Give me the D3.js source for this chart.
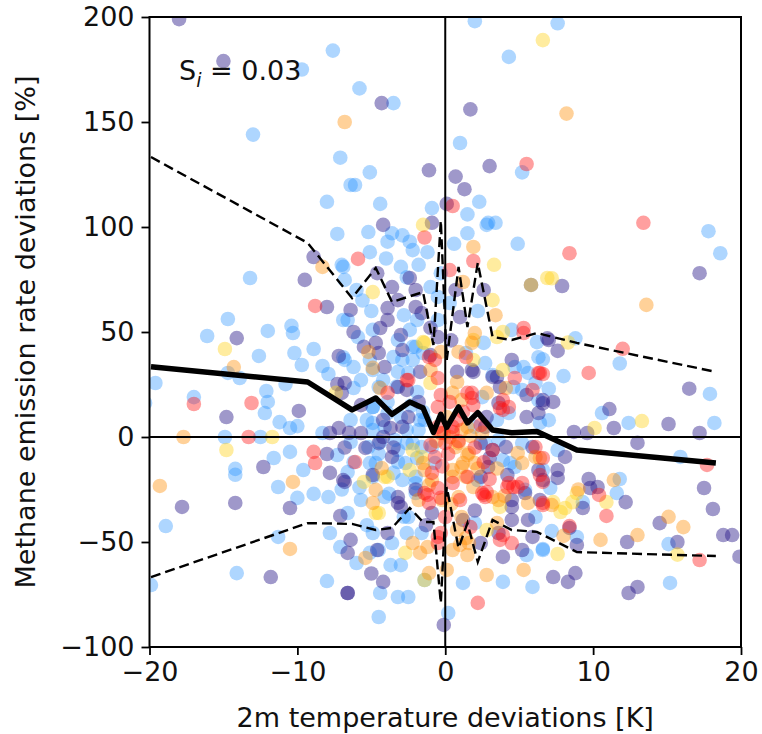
<!DOCTYPE html>
<html>
<head>
<meta charset="utf-8">
<script src="https://cdn.jsdelivr.net/npm/d3@7"></script>
<style>
  body { margin: 0; background: #fff; }
  svg { font-family: "DejaVu Sans", sans-serif; }
</style>
</head>
<body>
<svg id="chart" width="762" height="734"></svg>
<script>
// scatter points per colour group, [temperature deviation K, emission deviation %]
var bluePts = [[-7.6,184],[-9.7,175],[-13.0,144],[-7.1,133],[-8.0,112],[-6.4,120],[2.0,198],[4.3,181],[-5.8,166],[-3.5,159],[1.0,140],[-5.1,126],[-6.1,120],[5.2,126],[-4.4,111],[2.3,112],[-0.9,109],[1.5,106],[3.4,102],[2.8,101],[7.6,197],[17.8,98],[18.6,87.5],[8.8,47],[11.8,35],[6.6,37],[8.0,29],[7.0,23],[17.9,20.5],[10.6,11.4],[12.4,6.7],[18.2,6.7],[7.0,8],
  [15.9,-9.5],[15.1,-51],[15.2,-69.5],[6.6,-53.3],[8.9,-47.6],[7.2,-44.8],[11.6,-26.7],[11.8,-20],[9.3,-31],[7.1,-24.3],[7.6,-6.2],[6.6,-15.7],
  [-14.9,0],[-12.5,0],[-14.2,-15.2],[-14.2,-18],[-11.6,-10],[-10.5,-7.1],[-18.9,-42.4],[-11.3,-23.8],[-10.0,-29],[-8.9,-27.1],[-7.9,-28.6],[-9.6,-15.7],[-7.3,-8.6],[-11.3,-47.6],[-14.1,-64.8],[-7.8,-45.7],[-7.1,-52.4],[-8.0,-68.6],[-19.9,-70.5],
  [-7.3,96.7],[-7.0,82],[-13.2,75.7],[-6.9,55.7],[-14.7,56.2],[-16.1,48.1],[-12.0,50.5],[-10.4,52.9],[-10.3,49.5],[-12.6,38.6],[-10.2,40],[-8.9,41.9],[-9.7,34.3],[-8.3,33.8],[-6.8,36.7],[-7.9,30],[-14.7,30.5],[-13.9,28.1],[-10.8,25.2],[-19.6,25.7],[-20.3,16.2],[-17.0,19],[-12.1,21.9],[-12.0,16.7],[-12.2,11.4],[-11.2,7.1],[-10.5,4.3],[-10.0,5.2],[-8.3,1.9],
  [-5.2,97.6],[-3.6,97],[-2.9,96],[-2.4,93],[-3.9,93],[-2.2,89],[1.5,97],[2.9,102],[4.9,92],[-5.1,88],[-6.9,81],[-6.8,74.8],[-3.0,81],[-2.6,76],[-6.6,55.7],[-1.9,55.7],[-1.0,71.4],[-0.5,66.7],[0.3,63.8],[-0.5,55.7],[-5.9,47.6],[-4.9,51],[-2.4,51],[2.6,44.8],[4.5,51],[6.2,45.2],[-6.9,38],[-6.2,33.3],[-5.1,36.7],[-3.5,38.1],[-2.2,42.9],[-2.2,36.7],[-1.5,40],[2.7,35.2],[3.2,29.5],[5.3,33.3],[6.1,25.7],[4.6,23.8],[-2.5,30.5],[-3.2,31],[-4.2,27.1],[-5.7,27.1],[-6.2,23.3],[-1.9,21.4],[-4.9,14.3],[-3.9,16.7],[-1.5,11.9],[-3.0,9.5],[-5.3,8.1],[-6.4,8.1],[3.5,8.1],[4.3,11.4],[6.4,6.7],[-2.6,3.3],[-4.9,3.3],[-1.7,8.1],
  [-6.4,-2.4],[-4.4,-2.4],[-3.2,-6.2],[-2.6,-2.9],[-1.6,-4.8],[3.6,-1.4],[4.4,-12.4],[-6.6,-16.7],[-5.1,-12.4],[-3.5,-17.1],[-3.2,-11.9],[4.7,-14.3],[5.5,-56.2],[6.6,-53.8],[5.9,-71.4],[3.9,-69],[1.2,-69.5],[0.2,-83.8],[-5.7,-30],[-6.6,-36.2],[-2.6,-45.7],[-5.1,-55.2],[-3.7,-61],[-3.0,-61],[-4.4,-74.3],[-3.2,-76.2],[-2.5,-76.2],[-4.5,-85.7],[-1.4,-68.1],
  [-2.0,-22],[-3.8,-27],[-2.8,-38],[-1.9,-10],[-4.5,-8],[-5.8,-24],[-2.3,15],[-3.3,24],
  [-3.2,46.2],[-2.0,42.9],[1.4,40],[6.3,38],[4.7,33.3],[5.6,30.5],[-4.9,31.9],[-2.9,36.7],[2.5,19],[6.3,17.6],[5.2,22.4],[-4.5,23.8],[-3.9,11.4],[-4.9,14.3],[-1.4,8.1],[-4.9,6.7],[-4.1,4.8],[-1.8,3.3],[2.0,4.8],
  [-5.2,-4.8],[-3.4,-1.4],[-2.2,-2.9],[-0.9,-4.8],[2.7,-2.9],[5.2,-2.9],[-4.7,-12.4],[-2.7,-12.4],[-0.7,-12.4],[3.9,-11],[-4.9,-19],[-2.9,-20.5],[-2.0,-19],[2.2,-20.5],[5.4,-25.2],[-4.1,-28.6],[-2.0,-26.7],[-2.5,-38.1],[2.0,-41],[6.1,-38.1],[-4.9,-45.7],[-3.6,-50.5],[-1.6,-45.7],[-4.5,-53.8],
  [-4.0,85],[-1.8,82],[-6.0,70],[-5.0,60],[-2.8,58],[-1.2,88],[0.6,92],[-0.3,78],[2.2,60],[-5.6,65],[-6.0,-60],[-5.3,-42],[-7.0,-25],[-6.2,-12]];

var purplePts = [[-18.0,199],[-15.0,179],[-4.3,159],[1.7,156],[-1.1,127],[3.0,129],[0.7,124],[1.3,118],[0.1,111],[-0.9,102],[-4.2,101],
  [7.9,71.9],[17.2,78],[7.0,46.2],[7.6,41],[7.3,16.7],[6.6,16],[16.5,23],[11.1,13.3],[15.1,6.2],[11.4,4.3],[8.7,2.4],[17.2,1.9],[9.6,1.9],
  [13,-2.8],[17.5,-24.3],[18.1,-34.3],[18.8,-46.7],[19.4,-46.7],[19.9,-57],[14.5,-41],[15.7,-50],[12.3,-50],[13.0,-71.4],[12.4,-74.3],[7.3,-66.7],[8.3,-69],[8.8,-64.8],[8.9,-51.4],[12.2,-31],[10.3,-23.8],[9.7,-20],[9.8,-24.3],[9.3,-33.8],[7.6,-19.5],[7.6,-15.7],[8.1,-9.5],[8.4,-43.3],
  [-12.3,-14.3],[-17.8,-33.3],[-14.2,-31.4],[-10.5,-33.8],[-8.0,-8.1],[-7.8,-17.1],[-6.8,-21.4],[-11.8,-66.7],[-7.1,-37.6],[-6.6,-55.2],[-6.6,-74.3],
  [-8.9,85.7],[-9.5,74.8],[-8.0,61.9],[-14.1,47.1],[-7.2,38.6],[-7.3,25.2],[-9.9,12.4],[-14.8,9.5],[-7.8,1.9],[-7.2,4.3],[-6.5,2],
  [5.8,72.4],[-2.4,75.7],[-3.6,71.4],[-6.4,60.5],[-3.9,61.4],[-3.2,65.2],[-3.9,55.7],[-4.4,51.9],[-2.0,61.9],[-1.6,59],[0.7,70],[2.6,70],[1.0,57.1],[6.9,47],[-3.0,48.6],[-0.5,47.6],[-5.5,42.9],[-4.5,40],[-2.9,41.4],[1.9,31],[4.5,36.7],[6.6,17.6],[5.5,20],[3.5,28.6],[0.8,31],[1.8,31.9],[-1.7,31],[-6.8,25.7],[-2.6,22.4],[-5.7,15.2],[-1.8,16.7],[-4.2,8.1],[-7.0,21],[2.8,9.5],[5.5,9.5],[-3.7,4.3],[-5.7,1.9],
  [-5.4,-5.2],[-4.2,0],[2.4,-2.9],[3.2,-6.2],[5.9,-4.8],[-6.9,-20.5],[-4.9,-18.1],[2.4,-19],[5.4,-26.7],[4.2,-18.1],[6.4,-30],[4.5,-33.3],[5.6,-39.5],[3.9,-57.1],[1.2,-39.5],[2.4,-50.5],[-0.1,-89.5],[-0.9,-36.2],[-3.0,-33.3],[-3.9,-45.7],[-4.6,-53.8],[-6.4,-49],[-4.2,-69],[-6.6,-74.3],
  [-2.0,-25],[-3.5,-5],[-1.3,-42],[3.0,-10],[2.0,-35],
  [-4.7,44.8],[-4.1,33.3],[-1.0,39],[3.2,28.6],[3.7,23.8],[3.6,16.2],[6.3,11.4],[-3.2,23.8],[-2.5,9.5],[-2.9,4.8],[2.7,4.8],
  [-4.5,-2.9],[4.1,-4.8],[-3.6,-9.5],[2.9,-14.3],[6.3,-15.7],[6.6,-20.5],[-3.2,-28.6],[4.5,-30],[-3.2,-31.4],[4.5,-39.5],[3.6,-45.7],[5.9,-47.6],[5.2,-53.8],
  [-4.6,78],[-2.0,70],[-1.0,52],[0.4,46],[-6.2,50],[-5.0,-65],[-6.8,-5]];

var yellowPts = [[6.6,189],[-1.5,101],[7.2,75.6],[8.3,45],[13.3,7.6],[10.1,4.3],[15.7,-56],[7.6,-55.7],[8.9,-26.7],[8.6,-31],[10.9,-31],[7.8,-35.7],[8.1,-33.8],[7.3,-31],[-11.7,0],[-14.8,-6.2],[-14.9,41.9],[-7.4,21],[3.3,82],[6.9,75.7],[5.8,72.4],[-4.9,69],[3.2,65.2],[3.9,50],[-1.5,45.2],[1.9,46.2],[1.9,36.7],[-1.0,25.7],[-2.2,-6.2],[-5.5,-21.4],[-4.1,-19],[-2.4,-15.7],[3.7,-33.3],[2.8,-44.3],[-4.5,-36.2],[-1.4,-68.1],
  [-1.4,44.8],[3.5,47.6],[3.9,31.9],[-1.6,-9.5],[-3.9,-19],[-4.7,-36.2],[-2.7,-55.2]];

var orangePts = [[-6.8,150],[8.2,154],[13.6,62.9],[15.1,-38],[16.1,-42.9],[13.0,-46.7],[10.5,-49],[8.0,-47.1],[11.4,-20.5],[9.0,-25],[7.2,-32.4],[-17.7,0],[-19.3,-23.3],[-10.3,-21.4],[-10.5,-53.3],[-8.3,81],[-14.3,33.3],[1.9,90.5],[1.2,73.8],[3.4,58],[2.0,49.5],[-5.2,40.5],[-0.3,40.5],[0.9,40.5],[4.1,23.3],[2.8,21],[0.8,26.2],[0.5,21],[-1.0,31.9],[-4.4,23.3],[0.1,9.5],[1.5,4.8],[-0.1,1.9],[0.3,0],[0.7,-4.8],[1.5,-8.6],[4.9,-7.6],[6.4,-10],[-4.3,-14.8],[-1.5,-12.4],[-1.1,-22.9],[0.5,-15.7],[1.2,-12.4],[1.9,-23.8],[3.2,-28.6],[3.5,-41],[5.3,-63.3],[2.8,-65.7],[1.5,-56.2],[1.0,-51.4],[0.8,-44.3],[1.4,-48.1],[0.5,-53.8],[0.1,-63.3],[-1.2,-52.4],[-1.7,-55.2],[-1.1,-64.8],[-4.9,-31.4],[-5.4,-57.6],[-4.9,32.9],
  [0.4,-32],[2.2,-15],[-0.6,-2],[1.7,0.5],[3.5,-15],[2.5,2],[-1.8,-30],[4.0,-28],
  [1.8,44.8],[1.1,17.6],[1.1,3.3],[0.9,-2.9],[1.6,-7.6],[6.1,-9.5],[-1.4,-15.7],[1.1,-14.3],[2.0,-12.4],[5.2,-12.4],[-0.9,-20.5],[0.5,-19],[1.4,-19],[-4.7,-25.2],[-0.2,-30],[0.9,-28.6],[3.6,-30],[5.6,-31.4],[1.1,-38.1],[-2.2,-50.5],[1.6,-50.5]];

var redPts = [[0.5,110],[5.5,130],[13.4,102],[8.4,87.5],[12.0,42],[9.7,30.5],[6.6,30],[17.7,-13.3],[17.2,-58.6],[8.4,-42.4],[10.9,-37.6],[10.4,-27.6],[6.6,-31.4],[6.6,-21.4],[6.6,-10],[-13.3,0],[-8.9,-7.1],[-8.8,-12.4],[-8.8,62.4],[-17.0,15.7],[-13.1,16.2],[-1.4,95],[1.9,83.8],[-5.9,84.8],[0.3,79.5],[5.3,51.9],[-1.1,38.1],[-0.7,36.7],[1.4,38.1],[4.7,28.1],[6.3,30.5],[3.7,13.8],[3.9,17.6],[1.8,21],[1.9,15.2],[0.3,16.7],[-0.3,20],[-0.5,28.1],[-2.6,27.1],[-3.9,21],[-0.5,14.3],[-0.5,4.8],[0.8,8.1],[2.4,5.7],[0.5,2.4],[-0.3,1.9],[-1.0,-3.8],[-0.7,-9.5],[-6.1,-11.9],[-0.9,-17.1],[-1.2,-27.6],[-0.5,-24.3],[-0.3,-29],[0.5,-21.9],[1.5,-19],[2.6,-27.6],[2.8,-26.2],[4.2,-23.8],[4.6,-23.8],[5.2,-21.9],[6.4,-18.1],[6.6,-32.4],[3.9,-46.7],[3.7,-49],[2.2,-79],[1.7,-42.9],[-0.5,-50.5],[-0.3,-45.7],
  [0.2,-8],[1.0,-30],[2.0,-5],[-0.2,-14],[0.9,-2],[1.2,12],[2.6,-12],[3.0,-20],
  [5.3,49.5],[6.4,30.5],[-2.5,27.1],[1.5,21],[1.8,18.6],[3.9,12.9],[4.3,14.3],[5.9,22.4],[0.5,4.8],
  [0,-2.9],[3.2,-6.2],[6.1,-4.8],[4.3,-21.9],[4.9,-23.8],[-1.4,-26.7],[-1.1,-31.4],[2.5,-26.7],[2.7,-28.6],[0,-38.1],[-0.5,-47.6],[4.5,-50.5]];

// binned statistics lines
var binX     = [-19.9, -9.3, -6.3, -4.7, -3.6, -2.4, -1.5, -0.8, -0.3, 0.1, 0.9, 1.5, 2.2, 3.2, 4.5, 6.2, 8.9, 18.3];
var medianY  = [33.5, 26.2, 12.9, 18.6, 10.8, 16.7, 13.8, 2.2, 10.8, 4.6, 14.3, 6.7, 11.6, 3.3, 2.0, 2.6, -6.2, -12.4];
var upperY   = [133.3, 92.4, 66.2, 80.5, 64.3, 67, 69, 43.8, 103, 36.7, 81, 52.4, 82.9, 47.6, 46.2, 49.5, 44.8, 31];
var lowerY   = [-66.7, -41, -41.4, -44.3, -43.3, -33.8, -40.5, -40.5, -79, -23.8, -52.9, -41, -59.5, -39.5, -44.3, -45.2, -54.8, -56.7];

var xTicks = [-20, -10, 0, 10, 20];
var yTicks = [-100, -50, 0, 50, 100, 150, 200];

(function() {
  var svg = d3.select('#chart');
  var pl = 149.5, pr = 741, pt = 17, pb = 647;

  var x = d3.scaleLinear().domain([-20, 20]).range([pl, pr]);
  var y = d3.scaleLinear().domain([-100, 200]).range([pb, pt]);

  var fmt = function(d) { return String(d).replace('-', '\u2212'); };

  svg.append('defs').append('clipPath').attr('id', 'plotclip')
    .append('rect').attr('x', pl).attr('y', pt).attr('width', pr - pl).attr('height', pb - pt);

  var plot = svg.append('g').attr('clip-path', 'url(#plotclip)');

  // scatter groups
  var groups = [
    { pts: bluePts, color: '#1e8cff', op: 0.36 },
    { pts: purplePts, color: '#2a1a8a', op: 0.45 },
    { pts: yellowPts, color: '#ffd21a', op: 0.42 },
    { pts: orangePts, color: '#ff8c00', op: 0.4 },
    { pts: redPts, color: '#ff1010', op: 0.4 }
  ];
  groups.forEach(function(g) {
    plot.append('g').selectAll('circle').data(g.pts).enter().append('circle')
      .attr('cx', function(d) { return x(d[0]); })
      .attr('cy', function(d) { return y(d[1]); })
      .attr('r', 7.3)
      .attr('fill', g.color)
      .attr('fill-opacity', g.op);
  });

  // zero lines
  plot.append('line').attr('x1', pl).attr('x2', pr).attr('y1', y(0)).attr('y2', y(0))
    .attr('stroke', '#000').attr('stroke-width', 2);
  plot.append('line').attr('x1', x(0)).attr('x2', x(0)).attr('y1', pt).attr('y2', pb)
    .attr('stroke', '#000').attr('stroke-width', 2);

  // statistics lines
  var line = d3.line().x(function(d) { return x(d[0]); }).y(function(d) { return y(d[1]); });
  var zipY = function(ys) { return binX.map(function(v, i) { return [v, ys[i]]; }); };

  plot.append('path').datum(zipY(upperY)).attr('d', line)
    .attr('fill', 'none').attr('stroke', '#000').attr('stroke-width', 2.4).attr('stroke-dasharray', '10,5');
  plot.append('path').datum(zipY(lowerY)).attr('d', line)
    .attr('fill', 'none').attr('stroke', '#000').attr('stroke-width', 2.4).attr('stroke-dasharray', '10,5');
  plot.append('path').datum(zipY(medianY)).attr('d', line)
    .attr('fill', 'none').attr('stroke', '#000').attr('stroke-width', 5.5).attr('stroke-linejoin', 'round');

  // frame
  svg.append('rect').attr('x', pl).attr('y', pt).attr('width', pr - pl).attr('height', pb - pt)
    .attr('fill', 'none').attr('stroke', '#000').attr('stroke-width', 2);

  // axes
  var xAxis = d3.axisBottom(x).tickValues(xTicks).tickSize(8).tickPadding(7).tickFormat(fmt);
  var yAxis = d3.axisLeft(y).tickValues(yTicks).tickSize(8).tickPadding(7).tickFormat(fmt);

  var gx = svg.append('g').attr('transform', 'translate(0,' + pb + ')').call(xAxis);
  var gy = svg.append('g').attr('transform', 'translate(' + pl + ',0)').call(yAxis);
  [gx, gy].forEach(function(g) {
    g.select('.domain').remove();
    g.selectAll('.tick line').attr('stroke', '#000').attr('stroke-width', 1.8);
    g.selectAll('.tick text').attr('fill', '#111').style('font-size', '27px')
      .style('font-family', '"DejaVu Sans", sans-serif');
  });

  // axis titles
  svg.append('text').attr('x', (pl + pr) / 2).attr('y', 727).attr('text-anchor', 'middle')
    .style('font-size', '27px').attr('fill', '#111').text('2m temperature deviations [K]');
  svg.append('text').attr('transform', 'translate(35,' + ((pt + pb) / 2) + ') rotate(-90)')
    .attr('text-anchor', 'middle').style('font-size', '27px').attr('fill', '#111')
    .text('Methane emission rate deviations [%]');

  // sensitivity annotation
  var note = svg.append('text').attr('x', 179).attr('y', 80).style('font-size', '27px').attr('fill', '#111');
  note.append('tspan').text('S');
  note.append('tspan').attr('dy', 7).style('font-size', '19px').style('font-style', 'italic').text('i');
  note.append('tspan').attr('dy', -7).text(' = 0.03');
})();
</script>
</body>
</html>
